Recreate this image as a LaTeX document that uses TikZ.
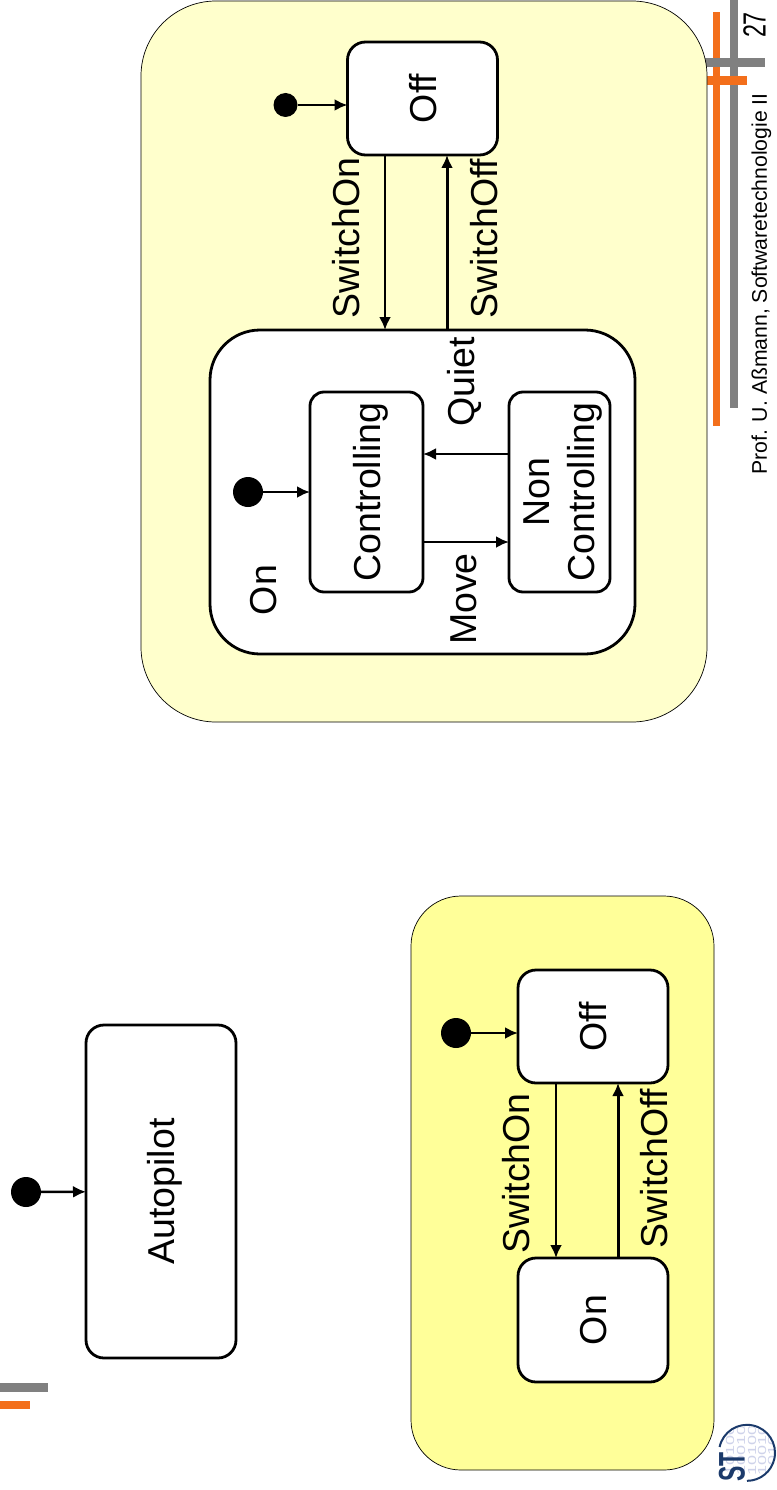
\documentclass[tikz,border=0pt]{standalone}
\usepackage{fontspec}
\setmainfont{Liberation Sans}
\usetikzlibrary{arrows.meta}

\definecolor{barorange}{HTML}{F36F1B}
\definecolor{bargray}{HTML}{808080}
\definecolor{paleyellow}{HTML}{FFFFCC}
\definecolor{strongyellow}{HTML}{FFFF99}
\definecolor{logoblue}{HTML}{1B3A6B}
\definecolor{logodigit}{HTML}{CFD3EA}

\tikzset{
  label/.style={rotate=90, inner sep=0pt, outer sep=0pt, font=\fontsize{37.5}{45}\selectfont, align=center},
  state/.style={label, draw=black, line width=2.8pt, fill=white, rounded corners=18pt, text depth=0pt},
  dot/.style={circle, fill=black, inner sep=0pt, outer sep=0pt, minimum size=30pt},
  flow/.style={line width=2.5pt, -{Latex[length=13pt,width=12pt]}},
  panel/.style={draw=black, line width=0.7pt}
}

\begin{document}
\begin{tikzpicture}[x=1pt, y=-1pt]
\useasboundingbox (0,0) rectangle (776,1490);
% side bars
\fill[bargray] (0,1383) rectangle (48,1392);
\fill[barorange] (0,1401) rectangle (30,1409);
\fill[barorange] (713,12) rectangle (720,426);
\fill[bargray] (730,0) rectangle (738,408);
\fill[bargray] (700,58) rectangle (765,67);
\fill[barorange] (707,76) rectangle (747,85);

% panels
\draw[panel, fill=paleyellow, rounded corners=75pt] (141,1) rectangle (707,722);
\draw[panel, fill=strongyellow, rounded corners=50pt] (411,896) rectangle (714,1470);

% left: autopilot
\node[state, minimum width=333pt, minimum height=150pt] (autopilot) at (161,1191.5) {Autopilot};
\node[dot] (autostart) at (26,1192) {};
\draw[flow] (autostart) -- (autopilot);

% middle: off and on
\node[state, minimum width=113pt, minimum height=150pt] (midoff) at (593,1026.5) {Off};
\node[state, minimum width=124pt, minimum height=150pt] (midon) at (593,1320) {On};
\node[dot] (midstart) at (456,1033) {};
\draw[flow] (midstart) -- (midstart -| midoff.north);
\draw[flow] ([xshift=-37pt]midoff.west) -- ([xshift=-37pt]midon.east);
\draw[flow, line width=3pt] ([xshift=25pt]midon.east) -- ([xshift=25pt]midoff.west);
\node[label] (midswitchon) at (516,1173.5) {SwitchOn};
\node[label] (midswitchoff) at (654,1168.5) {SwitchOff};

% right: off and nested on
\node[state, minimum width=113pt, minimum height=150pt] (off) at (422.5,98.5) {Off};
\node[state, rounded corners=50pt, minimum width=324pt, minimum height=425pt] (on) at (422.5,492) {};
\node[state, rounded corners=14pt, minimum width=200pt, minimum height=113pt] (ctrl) at (366.5,492) {Controlling};
\node[state, rounded corners=14pt, minimum width=200pt, minimum height=101pt] (nonctrl) at (559.5,492) {Non\\Controlling};
\node[dot, minimum size=24pt] (start) at (285.5,105) {};
\node[dot] (onstart) at (248,492) {};
\draw[flow] (start) -- (start -| off.north);
\draw[flow] (onstart) -- (ctrl);
\draw[flow] ([xshift=-37.5pt]off.west) -- ([xshift=-37.5pt]off.west |- on.east);
\draw[flow, line width=3pt] ([xshift=24.5pt]off.west |- on.east) -- ([xshift=24.5pt]off.west);
\draw[flow] ([yshift=-50pt]ctrl.south) -- ([yshift=-50pt]ctrl.south -| nonctrl.north);
\draw[flow] ([yshift=38pt]nonctrl.north) -- ([yshift=38pt]nonctrl.north -| ctrl.south);
\node[label] (switchon) at (346,238) {SwitchOn};
\node[label] (switchoff) at (484,238.5) {SwitchOff};
\node[label] (quiet) at (464,382) {Quiet};
\node[label] (move) at (464,599) {Move};
\node[label] (onlabel) at (264,590) {On};

% footer
\node[label, font=\fontsize{21.2}{26}\selectfont] (footer) at (761.5,284) {Prof. U. Aßmann, Softwaretechnologie II};
\node[label, font=\fontsize{32}{36}\selectfont] (page) at (754.5,25) {\scalebox{0.73}[1]{27}};

% logo
\begin{scope}
\clip (747,1453) circle[radius=27pt];
\foreach \x/\digits in {730/10100,741/10010,752/10100,762/10010,772/10100}
  \node[rotate=90, inner sep=0pt, text=logodigit, font=\fontsize{18}{18}\selectfont] (digit\x) at (\x,1450) {\scalebox{1}[0.65]{\digits}};
\end{scope}
\draw[logoblue, line width=2pt] (719.6,1447) arc[start angle=168, end angle=-90, radius=28pt];
\node[rotate=90, inner sep=0pt, text=logoblue, font=\bfseries\fontsize{37}{37}\selectfont] (logo) at (732,1467) {\scalebox{0.62}[1]{ST}};
\end{tikzpicture}
\end{document}
